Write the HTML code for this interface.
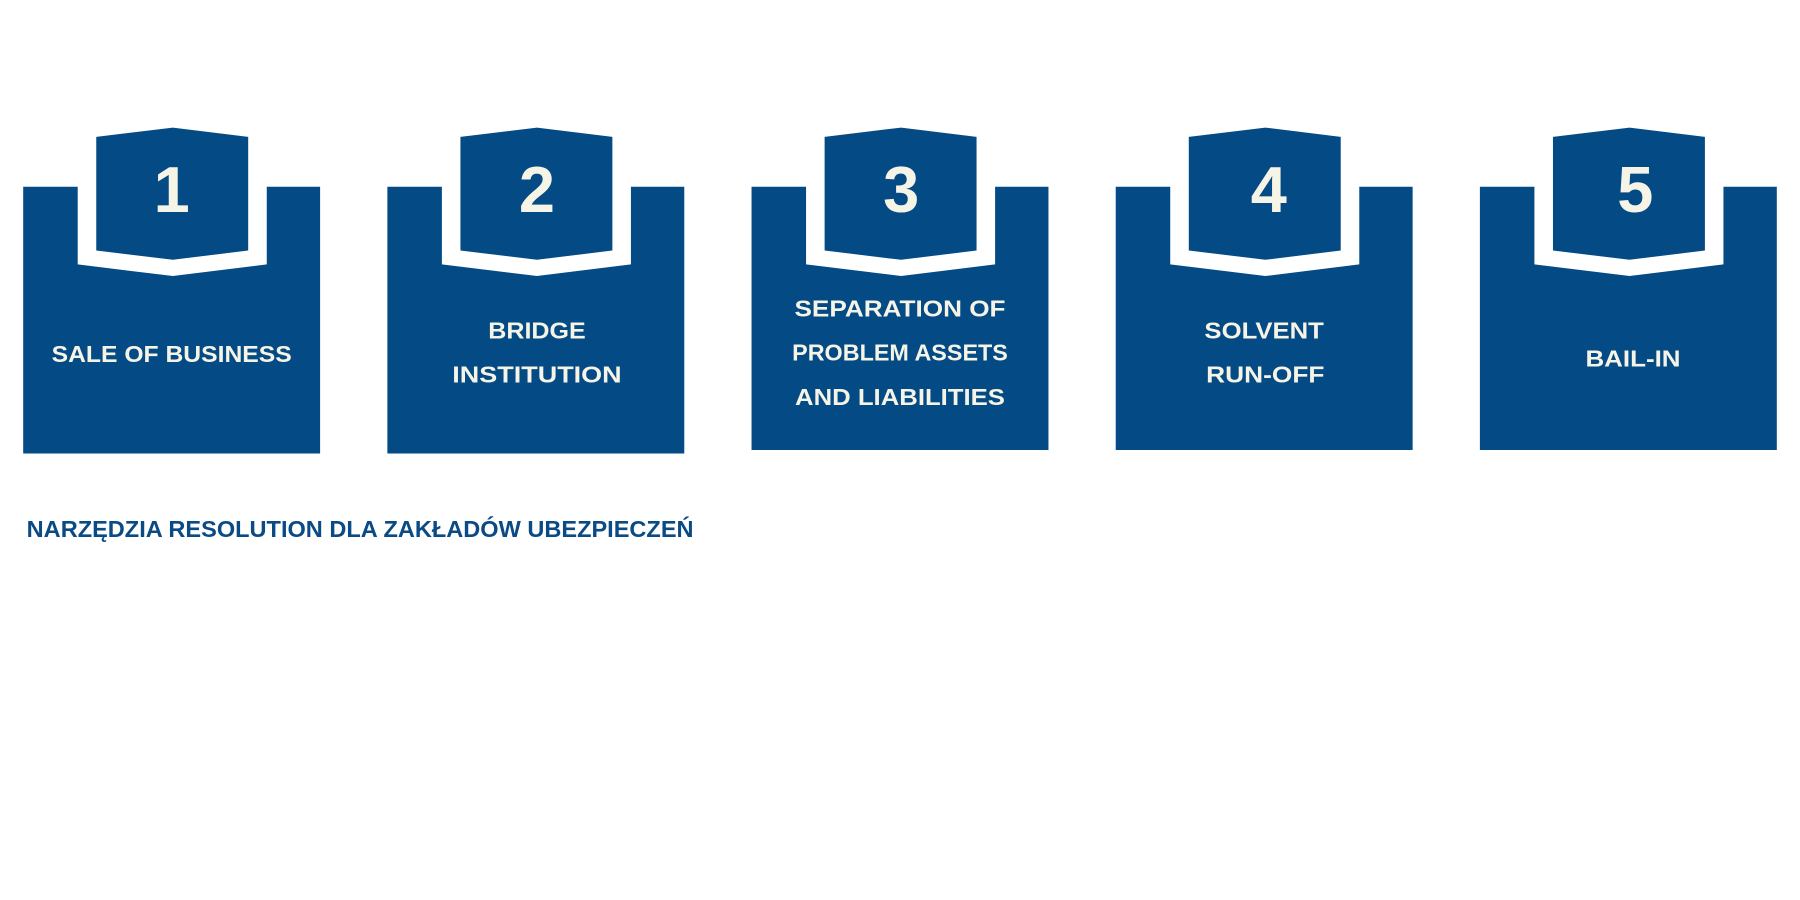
<!DOCTYPE html>
<html><head><meta charset="utf-8"><style>
html,body{margin:0;padding:0;background:#fff;width:1800px;height:900px;overflow:hidden}
svg{display:block}
text{font-family:"Liberation Sans",sans-serif;font-weight:bold}
</style></head><body>
<svg width="1800" height="900" viewBox="0 0 1552 776" xmlns="http://www.w3.org/2000/svg">
<defs>
<g id="blk">
<path d="M0,161 H47 V228 L129,238 L210,228 V161 H256 V230 H0 Z" fill="#044a84"/>
<path d="M63,118 L129,110 L194,118 V216 L129,224 L63,216 Z" fill="#044a84"/>
</g>
</defs>
<g fill="#044a84">
<!-- bodies -->
<path d="M20,161 H67 V228 L149,238 L230,228 V161 H276 V391 H20 Z"/>
<path d="M83,118 L149,110 L214,118 V216 L149,224 L83,216 Z"/>
<path d="M334,161 H381 V228 L463,238 L544,228 V161 H590 V391 H334 Z"/>
<path d="M397,118 L463,110 L528,118 V216 L463,224 L397,216 Z"/>
<path d="M648,161 H695 V228 L777,238 L858,228 V161 H904 V388 H648 Z"/>
<path d="M711,118 L777,110 L842,118 V216 L777,224 L711,216 Z"/>
<path d="M962,161 H1009 V228 L1091,238 L1172,228 V161 H1218 V388 H962 Z"/>
<path d="M1025,118 L1091,110 L1156,118 V216 L1091,224 L1025,216 Z"/>
<path d="M1276,161 H1323 V228 L1405,238 L1486,228 V161 H1532 V388 H1276 Z"/>
<path d="M1339,118 L1405,110 L1470,118 V216 L1405,224 L1339,216 Z"/>
</g>
<g fill="#f6f4e6" text-anchor="middle" font-size="56">
<text x="148" y="183">1</text>
<text x="463" y="183">2</text>
<text x="777" y="183">3</text>
<text x="1094" y="183">4</text>
<text x="1410" y="183">5</text>
</g>
<g fill="#f6f4e6" text-anchor="middle" font-size="20">
<text x="148" y="312" textLength="207" lengthAdjust="spacingAndGlyphs">SALE OF BUSINESS</text>
<text x="463" y="292" textLength="84" lengthAdjust="spacingAndGlyphs">BRIDGE</text>
<text x="463" y="330" textLength="146" lengthAdjust="spacingAndGlyphs">INSTITUTION</text>
<text x="776" y="273" textLength="182" lengthAdjust="spacingAndGlyphs">SEPARATION OF</text>
<text x="776" y="311" textLength="186" lengthAdjust="spacingAndGlyphs">PROBLEM ASSETS</text>
<text x="776" y="349" textLength="181" lengthAdjust="spacingAndGlyphs">AND LIABILITIES</text>
<text x="1090" y="292" textLength="103" lengthAdjust="spacingAndGlyphs">SOLVENT</text>
<text x="1091" y="330" textLength="102" lengthAdjust="spacingAndGlyphs">RUN-OFF</text>
<text x="1408" y="316" textLength="82" lengthAdjust="spacingAndGlyphs">BAIL-IN</text>
</g>
<text x="23" y="463" fill="#0a4a85" font-size="20" textLength="575" lengthAdjust="spacingAndGlyphs">NARZĘDZIA RESOLUTION DLA ZAKŁADÓW UBEZPIECZEŃ</text>
</svg>
</body></html>
